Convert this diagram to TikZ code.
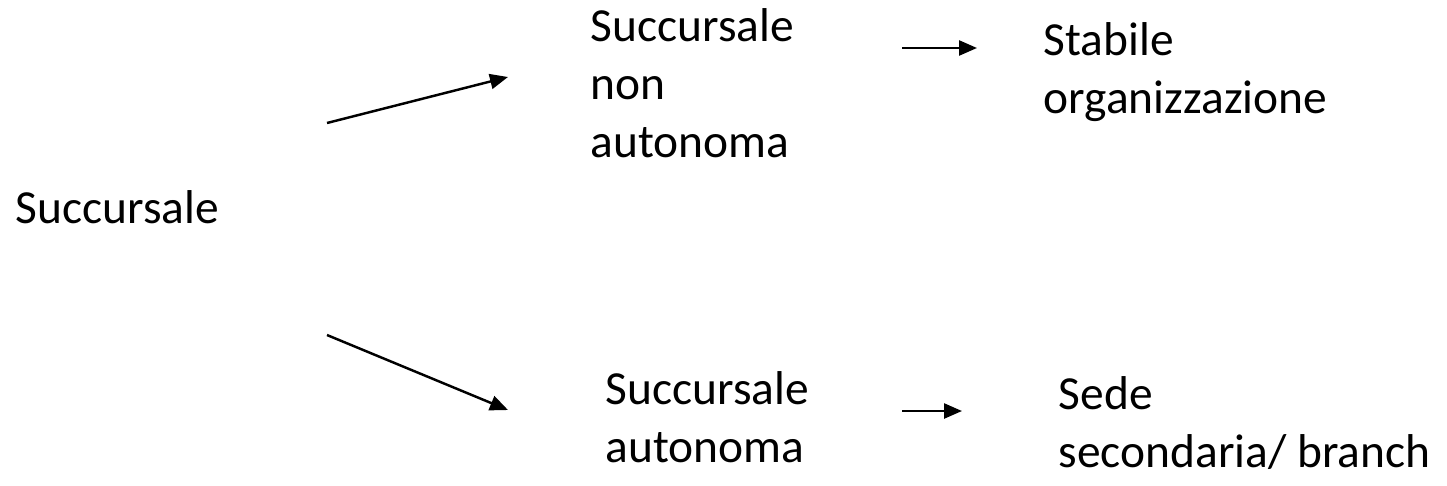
\documentclass[tikz,border=0pt]{standalone}
\usepackage{fontspec}
\setmainfont{Carlito}
\usetikzlibrary{arrows.meta}
\begin{document}
\begin{tikzpicture}
[x=1cm,y=-1cm,
  textdecorate/.style={anchor=base west,inner sep=0pt,align=left,%
    font=\fontsize{13.5}{16.4}\selectfont},
  arrowdecorate/.style={-{Triangle[length=1.8mm,width=1.5mm]},line width=0.7pt}]
\useasboundingbox (0,0) rectangle (14.47,4.85);
%% texts (anchored at the baseline of the last line)
\node (succ) at (0.15,2.23) [textdecorate] {Succursale};
\node (nonaut) at (5.90,1.57) [textdecorate] {Succursale\\non\\autonoma};
\node (aut) at (6.05,4.62) [textdecorate] {Succursale\\autonoma};
\node (stabile) at (10.43,1.13) [textdecorate] {Stabile\\organizzazione};
\node (sede) at (10.58,4.67) [textdecorate] {Sede\\secondaria/ branch};
%% arrow ends
\foreach \pointname/\x/\y in {
  up0/3.27/1.23, up1/5.08/0.77, down0/3.27/3.35, down1/5.08/4.10,
  upr0/9.02/0.48, upr1/9.77/0.48, downr0/9.02/4.11, downr1/9.62/4.11}
  \coordinate (\pointname) at (\x,\y);
%% arrows
\path
\foreach \startnode/\endnode in {up0/up1, down0/down1, upr0/upr1, downr0/downr1} {
  (\startnode) edge[arrowdecorate] (\endnode)
};
\end{tikzpicture}
\end{document}
